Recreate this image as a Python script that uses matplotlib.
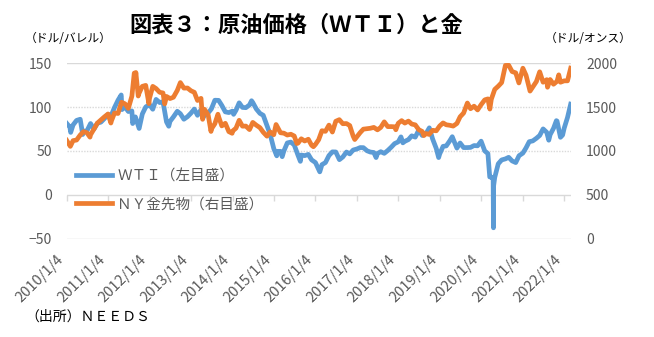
"""
原油価格（WTI）と金の推移（2010年〜2022年3月）
左軸：WTI（ドル/バレル）、右軸：NY金先物（ドル/オンス）
"""

import matplotlib
matplotlib.use("Agg")
import matplotlib.pyplot as plt
import matplotlib.dates as mdates
import pandas as pd

plt.rcParams["font.family"] = ["Noto Sans CJK JP", "DejaVu Sans"]

# ── 色 ────────────────────────────────────────────────────────────────────────
BLUE = "#5b9bd5"
ORANGE = "#ed7d31"
GRID = "#d9d9d9"
TICK_FG = "#595959"

# ── データ ────────────────────────────────────────────────────────────────────
wti_dates = [
    "2010-01-04", "2010-02-01", "2010-02-08", "2010-03-01", "2010-04-01", "2010-05-03",
    "2010-05-25", "2010-06-01", "2010-07-01", "2010-08-02", "2010-09-01", "2010-10-01",
    "2010-11-01", "2010-12-01", "2011-01-03", "2011-02-01", "2011-03-01", "2011-04-01",
    "2011-04-29", "2011-05-06", "2011-06-01", "2011-07-01", "2011-08-01", "2011-08-08",
    "2011-09-01", "2011-10-04", "2011-11-01", "2011-12-01", "2012-01-03", "2012-02-01",
    "2012-03-01", "2012-04-02", "2012-05-01", "2012-06-01", "2012-06-21", "2012-07-02",
    "2012-08-01", "2012-09-04", "2012-10-01", "2012-11-01", "2012-12-03", "2013-01-02",
    "2013-02-01", "2013-03-01", "2013-04-01", "2013-04-18", "2013-05-01", "2013-06-03",
    "2013-07-01", "2013-08-01", "2013-09-03", "2013-10-01", "2013-11-01", "2013-12-02",
    "2014-01-02", "2014-01-13", "2014-02-03", "2014-03-03", "2014-04-01", "2014-05-01",
    "2014-06-02", "2014-06-20", "2014-07-01", "2014-08-01", "2014-09-02", "2014-10-01",
    "2014-11-03", "2014-12-01", "2015-01-02", "2015-01-28", "2015-02-02", "2015-03-02",
    "2015-03-17", "2015-04-01", "2015-05-01", "2015-06-01", "2015-07-01", "2015-08-03",
    "2015-08-24", "2015-09-01", "2015-10-01", "2015-11-02", "2015-12-01", "2016-01-04",
    "2016-02-11", "2016-03-01", "2016-04-01", "2016-05-02", "2016-06-01", "2016-07-01",
    "2016-08-02", "2016-09-01", "2016-10-03", "2016-11-01", "2016-12-01", "2017-01-03",
    "2017-02-01", "2017-03-01", "2017-04-03", "2017-05-01", "2017-06-01", "2017-06-21",
    "2017-07-03", "2017-08-01", "2017-09-01", "2017-10-02", "2017-11-01", "2017-12-01",
    "2018-01-02", "2018-01-26", "2018-02-12", "2018-03-01", "2018-04-02", "2018-05-01",
    "2018-06-01", "2018-07-02", "2018-08-01", "2018-09-04", "2018-10-03", "2018-11-01",
    "2018-12-03", "2018-12-24", "2019-01-02", "2019-02-01", "2019-03-01", "2019-04-01",
    "2019-04-23", "2019-05-01", "2019-06-03", "2019-07-01", "2019-08-01", "2019-09-03",
    "2019-10-01", "2019-11-01", "2019-12-02", "2020-01-02", "2020-02-03", "2020-03-02",
    "2020-03-18", "2020-04-01", "2020-04-17", "2020-04-20", "2020-04-21", "2020-05-01",
    "2020-06-01", "2020-07-01", "2020-08-03", "2020-09-01", "2020-10-01", "2020-11-02",
    "2020-12-01", "2021-01-04", "2021-02-01", "2021-03-01", "2021-04-01", "2021-05-03",
    "2021-06-01", "2021-07-01", "2021-08-02", "2021-08-20", "2021-09-01", "2021-10-01",
    "2021-10-26", "2021-11-01", "2021-12-01", "2021-12-20", "2022-01-03", "2022-02-01",
    "2022-03-01",
]
wti_values = [
    81.5, 77.2, 71.2, 79.7, 84.9, 86.2,
    68.8, 72.6, 72.9, 81.3, 75.0, 81.6,
    82.9, 86.8, 91.6, 90.8, 99.6, 107.9,
    113.9, 97.2, 100.3, 95.0, 95.7, 81.3,
    88.9, 75.7, 92.2, 100.2, 102.9, 97.6,
    108.8, 105.2, 106.2, 83.2, 78.2, 83.8,
    88.9, 95.3, 92.5, 86.2, 89.1, 93.1,
    97.8, 90.7, 97.1, 87.7, 91.0, 93.5,
    97.9, 107.9, 107.7, 102.0, 94.6, 93.8,
    95.4, 91.8, 96.4, 104.9, 99.7, 99.4,
    102.5, 107.3, 105.3, 97.9, 92.9, 90.7,
    78.8, 69.0, 52.7, 44.5, 49.6, 49.6,
    43.5, 50.1, 59.2, 60.2, 56.9, 45.2,
    38.2, 45.4, 44.7, 46.1, 39.9, 36.8,
    26.2, 34.4, 36.8, 44.8, 49.0, 48.9,
    40.1, 43.2, 48.8, 46.7, 51.1, 52.3,
    53.9, 53.8, 50.2, 48.8, 48.3, 42.5,
    47.1, 49.2, 47.3, 50.6, 54.3, 58.4,
    60.4, 66.1, 59.3, 61.0, 63.0, 67.3,
    65.8, 73.9, 67.7, 69.9, 76.4, 63.7,
    52.9, 42.5, 46.5, 55.3, 55.8, 61.6,
    66.3, 63.6, 53.3, 59.1, 53.9, 53.9,
    54.1, 56.2, 55.9, 61.2, 50.1, 47.0,
    20.4, 20.3, 18.3, -37.6, 10.0, 19.8,
    35.4, 39.8, 41.0, 42.8, 38.7, 36.8,
    44.6, 47.6, 53.6, 60.6, 61.5, 64.5,
    67.7, 75.2, 71.3, 62.3, 68.6, 75.9,
    84.6, 84.1, 65.6, 68.2, 76.1, 88.2,
    103.4,
]

gold_dates = [
    "2010-01-04", "2010-02-05", "2010-03-01", "2010-04-01", "2010-05-03", "2010-06-01",
    "2010-07-01", "2010-07-28", "2010-08-02", "2010-09-01", "2010-10-01", "2010-11-01",
    "2010-12-01", "2011-01-03", "2011-01-28", "2011-02-01", "2011-03-01", "2011-04-01",
    "2011-05-02", "2011-06-01", "2011-07-01", "2011-08-01", "2011-08-22", "2011-09-01",
    "2011-09-05", "2011-09-26", "2011-10-03", "2011-11-01", "2011-12-01", "2011-12-29",
    "2012-01-03", "2012-02-01", "2012-03-01", "2012-04-02", "2012-05-01", "2012-05-16",
    "2012-06-01", "2012-07-02", "2012-08-01", "2012-09-04", "2012-10-01", "2012-11-01",
    "2012-12-03", "2013-01-02", "2013-02-01", "2013-03-01", "2013-04-01", "2013-04-15",
    "2013-05-01", "2013-06-03", "2013-06-28", "2013-07-01", "2013-08-01", "2013-08-28",
    "2013-09-03", "2013-10-01", "2013-11-01", "2013-12-02", "2013-12-31", "2014-01-02",
    "2014-02-03", "2014-03-03", "2014-04-01", "2014-05-01", "2014-06-02", "2014-07-01",
    "2014-08-01", "2014-09-02", "2014-10-01", "2014-11-03", "2014-12-01", "2015-01-02",
    "2015-01-22", "2015-02-02", "2015-03-02", "2015-04-01", "2015-05-01", "2015-06-01",
    "2015-07-01", "2015-07-24", "2015-08-03", "2015-09-01", "2015-10-01", "2015-11-02",
    "2015-12-01", "2015-12-17", "2016-01-04", "2016-02-01", "2016-03-01", "2016-04-01",
    "2016-05-02", "2016-06-01", "2016-07-01", "2016-08-01", "2016-09-01", "2016-10-03",
    "2016-11-01", "2016-12-01", "2016-12-15", "2017-01-03", "2017-02-01", "2017-03-01",
    "2017-04-03", "2017-05-01", "2017-06-01", "2017-07-03", "2017-08-01", "2017-09-01",
    "2017-10-02", "2017-11-01", "2017-12-01", "2017-12-12", "2018-01-02", "2018-02-01",
    "2018-03-01", "2018-04-02", "2018-05-01", "2018-06-01", "2018-07-02", "2018-08-01",
    "2018-08-16", "2018-09-04", "2018-10-01", "2018-11-01", "2018-12-03", "2019-01-02",
    "2019-02-01", "2019-03-01", "2019-04-01", "2019-05-01", "2019-06-03", "2019-07-01",
    "2019-08-01", "2019-09-03", "2019-10-01", "2019-11-01", "2019-12-02", "2020-01-02",
    "2020-02-03", "2020-03-02", "2020-03-19", "2020-04-01", "2020-05-01", "2020-06-01",
    "2020-07-01", "2020-08-03", "2020-08-06", "2020-09-01", "2020-10-01", "2020-11-02",
    "2020-11-30", "2021-01-04", "2021-02-01", "2021-03-01", "2021-03-08", "2021-04-01",
    "2021-05-03", "2021-06-01", "2021-07-01", "2021-08-02", "2021-08-09", "2021-09-01",
    "2021-10-01", "2021-11-01", "2021-11-16", "2021-12-01", "2022-01-03", "2022-02-01",
    "2022-03-01",
]
gold_values = [
    1121, 1053, 1118, 1125, 1182, 1221,
    1208, 1158, 1185, 1250, 1318, 1353,
    1388, 1422, 1319, 1340, 1433, 1428,
    1556, 1538, 1486, 1625, 1888, 1827,
    1895, 1627, 1658, 1737, 1748, 1540,
    1599, 1737, 1712, 1669, 1662, 1537,
    1622, 1598, 1613, 1691, 1780, 1717,
    1718, 1687, 1669, 1576, 1600, 1361,
    1476, 1410, 1223, 1250, 1311, 1419,
    1391, 1286, 1316, 1221, 1202, 1225,
    1260, 1350, 1283, 1284, 1244, 1326,
    1294, 1266, 1214, 1169, 1217, 1186,
    1302, 1276, 1208, 1203, 1182, 1191,
    1171, 1085, 1089, 1139, 1114, 1134,
    1065, 1049, 1075, 1128, 1231, 1224,
    1295, 1216, 1339, 1357, 1311, 1313,
    1290, 1170, 1131, 1162, 1210, 1249,
    1254, 1259, 1269, 1241, 1269, 1332,
    1278, 1278, 1276, 1242, 1316, 1346,
    1318, 1341, 1307, 1298, 1243, 1223,
    1176, 1199, 1189, 1236, 1230, 1285,
    1320, 1299, 1293, 1284, 1314, 1390,
    1433, 1547, 1482, 1511, 1468, 1528,
    1583, 1594, 1478, 1590, 1702, 1739,
    1780, 1976, 1975, 1978, 1906, 1891,
    1776, 1944, 1863, 1723, 1683, 1729,
    1792, 1903, 1784, 1813, 1727, 1815,
    1761, 1795, 1868, 1784, 1800, 1800,
    1944,
]

# 横軸目盛（毎年1月4日）
years = list(range(2010, 2023))
tick_labels = [f"{y}/1/4" for y in years]

wti_y = [-50, 0, 50, 100, 150]
gold_y = [0, 500, 1000, 1500, 2000]


def to_num(dates):
    return mdates.date2num(pd.to_datetime(dates).to_pydatetime())


def main():
    fig = plt.figure(figsize=(6.54, 3.37), dpi=100)
    fig.patch.set_facecolor("white")
    ax = fig.add_axes([0.102, 0.2917, 0.7706, 0.5205])
    ax2 = ax.twinx()

    x_wti = to_num(wti_dates)
    x_gold = to_num(gold_dates)
    x_ticks = to_num([f"{y}-01-04" for y in years])

    line_wti, = ax.plot(x_wti, wti_values, color=BLUE, lw=3.4,
                        solid_joinstyle="round", label="ＷＴＩ（左目盛）", zorder=3)
    line_gold, = ax2.plot(x_gold, gold_values, color=ORANGE, lw=3.4,
                          solid_joinstyle="round", label="ＮＹ金先物（右目盛）", zorder=3)

    ax.set_xlim(x_wti[0], x_wti[-1])
    ax.set_ylim(wti_y[0], wti_y[-1])
    ax2.set_ylim(gold_y[0], gold_y[-1])

    # 目盛線：上下と0は実線、50・100は点線
    for v in wti_y:
        if v in (50, 100):
            ax.axhline(v, color=GRID, lw=1.0, ls=(0, (1, 1)), zorder=1)
        else:
            ax.axhline(v, color=GRID, lw=1.0, zorder=1)

    for a in (ax, ax2):
        for sp in a.spines.values():
            sp.set_visible(False)

    ax.set_yticks(wti_y)
    ax.tick_params(axis="y", length=0, pad=10.5, labelsize=10, labelcolor=TICK_FG)
    ax2.set_yticks(gold_y)
    ax2.tick_params(axis="y", length=0, pad=11, labelsize=10, labelcolor=TICK_FG)

    # 日付ラベルは下端に、目盛の刻みは0の線上に
    ax.set_xticks(x_ticks)
    ax.set_xticklabels(tick_labels, rotation=45, ha="right", va="top")
    ax.tick_params(axis="x", length=0, pad=10, labelsize=10.5, labelcolor=TICK_FG)

    zero_frac = (0 - wti_y[0]) / (wti_y[-1] - wti_y[0])
    sec = ax.secondary_xaxis(zero_frac)
    sec.set_xticks(x_ticks)
    sec.set_xticklabels([])
    sec.tick_params(axis="x", direction="out", length=4, width=1.0, color=GRID)
    for sp in sec.spines.values():
        sp.set_visible(False)

    ax.set_zorder(ax2.get_zorder() - 1)
    ax2.patch.set_visible(False)

    leg = ax2.legend(handles=[line_wti, line_gold], loc="center left",
                     bbox_to_anchor=(0.018, 0.276), frameon=False, fontsize=10.5,
                     handlelength=2.5, handletextpad=0.35, labelspacing=0.95,
                     borderpad=0, borderaxespad=0)
    for t in leg.get_texts():
        t.set_color(TICK_FG)

    fig.text(0.4526, 0.926, "図表３：原油価格（ＷＴＩ）と金", ha="center", va="center",
             fontsize=16, fontweight="bold", color="black")
    fig.text(25 / 654, 1 - 38 / 337, "（ドル/バレル）", ha="left", va="center",
             fontsize=8.5, color="black")
    fig.text(545 / 654, 1 - 38 / 337, "（ドル/オンス）", ha="left", va="center",
             fontsize=8.5, color="black")
    fig.text(25 / 654, 1 - 317 / 337, "（出所）ＮＥＥＤＳ", ha="left", va="center",
             fontsize=10, color="black")

    fig.savefig("out.png", dpi=100)
    plt.close(fig)


if __name__ == "__main__":
    main()
